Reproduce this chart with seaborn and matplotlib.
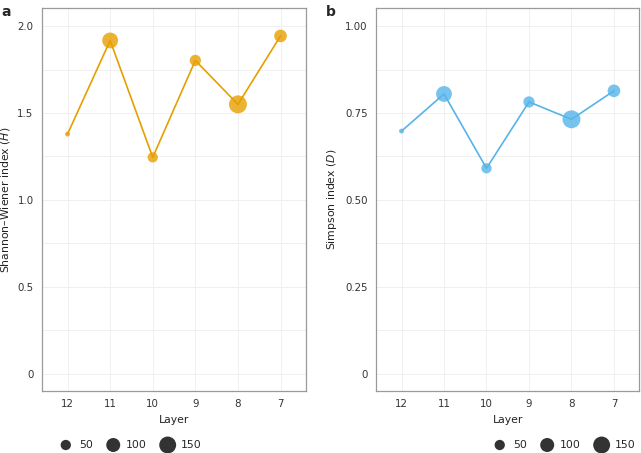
import pandas as pd
import matplotlib.pyplot as plt
import seaborn as sns
from matplotlib.ticker import MultipleLocator, FixedLocator

# Data
layers = ['12', '11', '10', '9', '8', '7']
shannon = [1.379, 1.918, 1.245, 1.803, 1.550, 1.944]
simpson = [0.698, 0.805, 0.591, 0.782, 0.732, 0.814]
counts = [5, 130, 50, 62, 170, 80]
legend_counts = [50, 100, 150]

orange = '#E69F00'
blue = '#56B4E9'
size_range = (8, 195)
size_norm = (0, 200)

df = pd.DataFrame({'Layer': layers, 'H': shannon, 'D': simpson, 'n': counts})

sns.set_style('white')
plt.rcParams['font.family'] = ['DejaVu Sans']
plt.rcParams['mathtext.fontset'] = 'dejavusans'

fig = plt.figure(figsize=(6.41, 4.53), dpi=100)
ax_a = fig.add_axes([0.0655, 0.137, 0.412, 0.845])
ax_b = fig.add_axes([0.5866, 0.137, 0.411, 0.845])


def size_of(v):
    lo, hi = size_norm
    return size_range[0] + (v - lo) / (hi - lo) * (size_range[1] - size_range[0])


def draw(ax, col, color, ticks, ticklabels, ylabel):
    sns.lineplot(data=df, x='Layer', y=col, color=color, lw=1.2, ax=ax,
                 sort=False, zorder=2)
    sns.scatterplot(data=df, x='Layer', y=col, size='n', sizes=size_range,
                    size_norm=size_norm, color=color, alpha=0.8,
                    edgecolor='none', legend=False, ax=ax, zorder=3)
    ax.set_xlim(-0.6, 5.6)
    ax.set_ylim(-0.1 * ticks[-1] / 2, ticks[-1] * 1.052)
    ax.yaxis.set_major_locator(FixedLocator(ticks))
    ax.set_yticklabels(ticklabels)
    step = ticks[1] - ticks[0]
    ax.yaxis.set_minor_locator(MultipleLocator(step / 2))
    ax.grid(True, which='both', color='#EEEEEE', lw=0.6)
    ax.set_axisbelow(True)
    for s in ax.spines.values():
        s.set_color('#9A9A9A')
        s.set_linewidth(0.9)
    ax.tick_params(axis='both', which='major', length=3, width=0.6,
                   color='#555555', labelsize=7.4, labelcolor='#333333', pad=3)
    ax.tick_params(axis='y', which='minor', length=0)
    ax.set_xlabel('Layer', fontsize=7.8, color='#222222', labelpad=4)
    ax.set_ylabel(ylabel, fontsize=7.8, color='#222222', labelpad=4)


draw(ax_a, 'H', orange, [0, 0.5, 1.0, 1.5, 2.0],
     ['0', '0.5', '1.0', '1.5', '2.0'], 'Shannon–Wiener index ($\\it{H}$)')
draw(ax_b, 'D', blue, [0, 0.25, 0.5, 0.75, 1.0],
     ['0', '0.25', '0.50', '0.75', '1.00'], 'Simpson index ($\\it{D}$)')

fig.text(0.002, 0.988, 'a', fontsize=10, fontweight='bold', va='top')
fig.text(0.508, 0.988, 'b', fontsize=10, fontweight='bold', va='top')

# size legends
for xc in (0.2, 0.877):
    handles = [plt.scatter([], [], s=size_of(v), color='#333333', edgecolor='none')
               for v in legend_counts]
    fig.legend(handles, [str(v) for v in legend_counts], ncol=3, frameon=False,
               loc='center', bbox_to_anchor=(xc, 0.018), fontsize=7.8,
               handletextpad=0.2, columnspacing=0.9, borderpad=0)

fig.savefig('out.png', dpi=100)
